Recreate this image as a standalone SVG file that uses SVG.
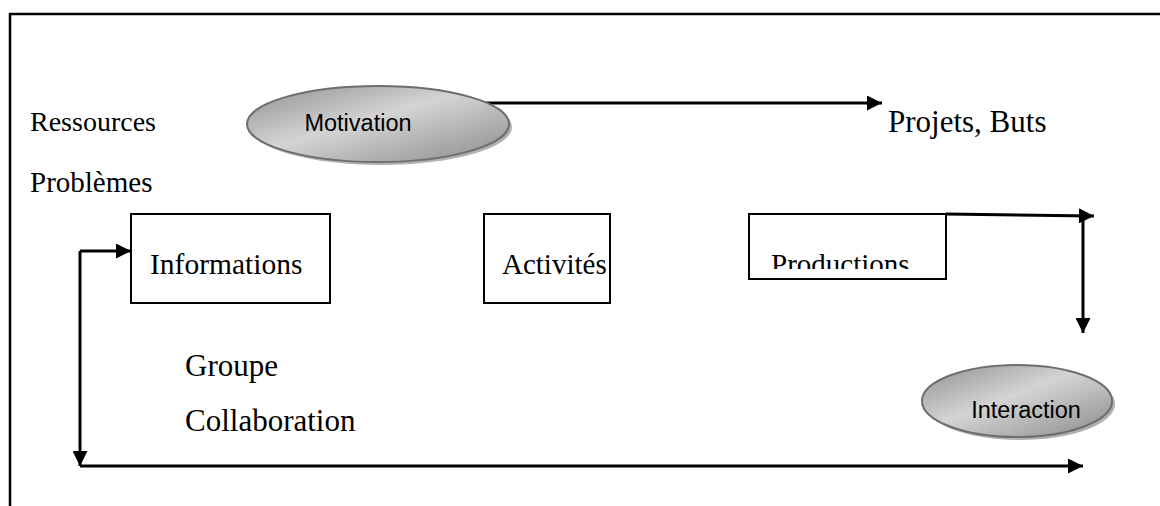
<svg xmlns="http://www.w3.org/2000/svg" width="1160" height="506" viewBox="0 0 1160 506">
<defs>
<style>
.t{font-family:"Liberation Serif","Times New Roman",serif;font-size:28px;fill:#000}
.a{font-family:"Liberation Sans",Arial,sans-serif;font-size:23.5px;fill:#000}
.box{fill:#fff;stroke:#000;stroke-width:2}
.ln{fill:none;stroke:#000;stroke-width:3}
.ell{fill:url(#g);stroke:#6e6e6e;stroke-width:2}
.sh{fill:#b0b0b0}
</style>
<linearGradient id="g" x1="0" y1="0" x2="1" y2="1">
<stop offset="0" stop-color="#909090"/>
<stop offset="0.45" stop-color="#d4d4d4"/>
<stop offset="1" stop-color="#8a8a8a"/>
</linearGradient>
<marker id="ah" viewBox="0 0 10 10" refX="10" refY="5" markerWidth="5.5" markerHeight="5" orient="auto" markerUnits="strokeWidth">
<path d="M0,0 L10,5 L0,10 z" fill="#000"/>
</marker>
<clipPath id="pc"><rect x="749" y="214" width="197" height="55"/></clipPath>
</defs>
<rect x="10" y="14" width="1170" height="520" fill="none" stroke="#000" stroke-width="2.5"/>
<g id="connectors">
<line class="ln" x1="470" y1="103" x2="882" y2="103" marker-end="url(#ah)"/>
<polyline class="ln" points="946,214 1094,216" marker-end="url(#ah)"/>
<line class="ln" x1="1083" y1="216" x2="1083" y2="333" marker-end="url(#ah)"/>
<line class="ln" x1="80" y1="466" x2="1083" y2="466" marker-end="url(#ah)"/>
<line class="ln" x1="80" y1="251" x2="80" y2="466" marker-end="url(#ah)"/>
<line class="ln" x1="80" y1="251" x2="131" y2="251" marker-end="url(#ah)"/>
</g>
<g id="motivation">
<ellipse class="sh" cx="381" cy="127" rx="131" ry="38"/>
<ellipse class="ell" cx="378" cy="124" rx="131" ry="38"/>
<text class="a" x="358" y="131" text-anchor="middle">Motivation</text>
</g>
<g id="interaction">
<ellipse class="sh" cx="1020" cy="404" rx="95" ry="36"/>
<ellipse class="ell" cx="1017" cy="401" rx="95" ry="36"/>
<text class="a" x="1026" y="418" text-anchor="middle">Interaction</text>
</g>
<g id="informations">
<rect class="box" x="131" y="214" width="199" height="89"/>
<text class="t" x="150" y="274" style="font-size:29.5px">Informations</text>
</g>
<g id="activites">
<rect class="box" x="484" y="214" width="126" height="89"/>
<text class="t" x="502" y="274" style="font-size:29px">Activités</text>
</g>
<g id="productions">
<rect class="box" x="749" y="214" width="197" height="65"/>
<text class="t" x="771" y="274" clip-path="url(#pc)" style="font-size:29px">Productions</text>
</g>
<g id="labels">
<text class="t" x="30" y="131">Ressources</text>
<text class="t" x="30" y="192" style="font-size:29px">Problèmes</text>
<text class="t" x="888" y="132" style="font-size:31px">Projets, Buts</text>
<text class="t" x="185" y="376" style="font-size:31px">Groupe</text>
<text class="t" x="185" y="431" style="font-size:31px">Collaboration</text>
</g>
</svg>
